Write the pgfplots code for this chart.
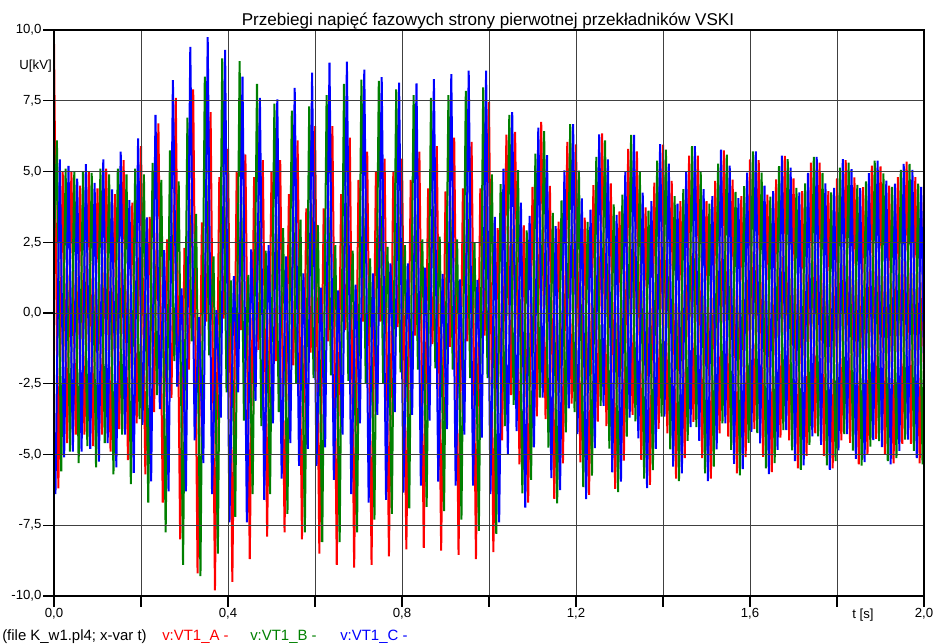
\documentclass[border=0pt]{standalone}
\usepackage{fontspec}
\setmainfont{Liberation Sans}
\usepackage{pgfplots}
\usepackage{pgfplotstable}
\pgfplotsset{compat=1.18}
\definecolor{phA}{RGB}{255,0,0}
\definecolor{phB}{RGB}{0,128,0}
\definecolor{phC}{RGB}{0,0,255}

% extremes of the three phase voltages, one row every 10 ms
% A at t, B at t+6.67 ms, C at t+13.33 ms (kV)
\pgfplotstableread{
t A B C
-0.01 9.5 0.5 -6.4
0.00 9.5 6.1 5.43
0.01 -6.2 -5.6 -5.1
0.02 5.0 5.1 5.2
0.03 -4.6 -4.9 -4.9
0.04 5.0 5.0 4.75
0.05 -4.3 -5.3 -4.9
0.06 4.5 5.0 5.26
0.07 -4.3 -4.7 -4.8
0.08 5.0 4.95 4.6
0.09 -4.7 -5.45 -5.25
0.10 4.4 5.1 5.43
0.11 -4.3 -4.6 -4.6
0.12 5.1 4.9 4.37
0.13 -4.9 -5.7 -5.45
0.14 4.2 5.1 5.7
0.15 -4.1 -4.3 -4.3
0.16 5.4 4.9 3.99
0.17 -5.2 -6.05 -5.65
0.18 3.9 5.1 6.17
0.19 -3.9 -3.75 -3.95
0.20 5.9 4.9 3.38
0.21 -5.7 -6.7 -5.95
0.22 3.4 5.3 7.0
0.23 -3.5 -2.9 -3.4
0.24 6.7 4.7 2.22
0.25 -6.7 -7.75 -6.3
0.26 2.6 5.75 8.23
0.27 -3.0 -1.7 -2.6
0.28 7.6 4.65 0.87
0.29 -8.0 -8.9 -6.3
0.30 2.3 6.9 9.4
0.31 -2.0 -1.0 -4.5
0.32 7.9 3.5 -0.15
0.33 -9.2 -9.3 -5.3
0.34 3.2 8.35 9.75
0.35 -0.3 -1.5 -6.4
0.36 7.1 2.0 0.1
0.37 -9.8 -8.5 -3.7
0.38 4.8 9.0 9.3
0.39 -0.2 -2.8 -7.4
0.40 5.8 1.15 1.3
0.41 -9.5 -7.2 -2.8
0.42 5.0 8.9 8.35
0.43 -0.6 -3.8 -7.4
0.44 5.6 1.35 2.25
0.45 -8.7 -6.4 -3.1
0.46 4.8 8.1 7.6
0.47 -1.3 -4.0 -6.6
0.48 5.4 2.2 2.4
0.49 -7.9 -6.4 -3.9
0.50 5.0 7.4 7.55
0.51 -1.7 -3.5 -5.85
0.52 5.4 3.0 2.0
0.53 -7.75 -7.1 -4.6
0.54 4.2 7.15 7.95
0.55 -1.85 -2.5 -5.4
0.56 6.1 3.3 1.4
0.57 -8.0 -7.75 -4.8
0.58 3.7 7.3 8.49
0.59 -1.4 -2.3 -5.4
0.60 6.6 3.1 0.9
0.61 -8.5 -8.1 -4.75
0.62 3.7 7.7 8.85
0.63 -1.0 -2.2 -5.9
0.64 6.6 2.4 0.8
0.65 -8.9 -8.1 -4.3
0.66 4.2 8.1 8.88
0.67 -0.6 -2.4 -6.4
0.68 6.2 2.2 1.0
0.69 -9.0 -7.75 -3.9
0.70 4.7 8.25 8.6
0.71 -0.3 -2.5 -6.7
0.72 5.7 1.93 1.4
0.73 -8.9 -7.3 -3.6
0.74 5.0 8.2 8.33
0.75 -0.3 -2.5 -6.6
0.76 5.45 2.34 1.75
0.77 -8.6 -7.1 -3.5
0.78 5.0 7.9 8.14
0.79 -0.5 -2.1 -6.35
0.80 5.45 2.4 1.75
0.81 -8.35 -6.9 -3.6
0.82 4.7 7.7 8.11
0.83 -0.8 -2.0 -6.1
0.84 5.7 2.6 1.6
0.85 -8.3 -6.85 -3.8
0.86 4.4 7.6 8.26
0.87 -1.1 -1.96 -5.96
0.88 5.9 2.7 1.38
0.89 -8.4 -7.0 -4.1
0.90 4.3 7.7 8.44
0.91 -1.2 -2.0 -6.1
0.92 6.2 2.6 1.19
0.93 -8.55 -7.3 -4.3
0.94 4.4 7.85 8.56
0.95 -1.0 -2.3 -6.1
0.96 6.05 2.5 1.17
0.97 -8.7 -7.7 -4.4
0.98 4.4 7.97 8.56
0.99 -0.8 -2.3 -6.4
1.00 7.46 4.9 3.4
1.01 -8.45 -7.8 -7.4
1.02 3.0 4.55 5.1
1.03 -4.5 -4.0 -5.0
1.04 6.3 7.0 7.1
1.05 -2.9 -3.25 -4.17
1.06 6.4 5.05 3.90
1.07 -5.35 -6.37 -6.88
1.08 3.10 2.92 3.43
1.09 -6.70 -5.90 -4.75
1.10 4.46 5.63 6.55
1.11 -3.65 -2.99 -2.99
1.12 6.75 6.43 5.58
1.13 -3.75 -4.76 -5.83
1.14 4.49 3.54 3.07
1.15 -6.57 -6.73 -6.26
1.16 3.23 3.98 5.04
1.17 -5.31 -4.22 -3.37
1.18 6.05 6.67 6.67
1.19 -3.20 -3.50 -4.28
1.20 5.96 5.03 4.05
1.21 -5.28 -6.15 -6.58
1.22 3.37 3.22 3.65
1.23 -6.43 -5.75 -4.77
1.24 4.52 5.52 6.31
1.25 -3.84 -3.28 -3.28
1.26 6.35 6.10 5.43
1.27 -4.00 -4.79 -5.63
1.28 4.58 3.84 3.47
1.29 -6.21 -6.33 -5.96
1.30 3.59 4.18 5.01
1.31 -5.22 -4.37 -3.70
1.32 5.80 6.29 6.29
1.33 -3.60 -3.83 -4.43
1.34 5.71 5.00 4.25
1.35 -5.19 -5.85 -6.19
1.36 3.73 3.62 3.95
1.37 -6.07 -5.55 -4.80
1.38 4.61 5.38 5.97
1.39 -4.09 -3.66 -3.66
1.40 5.95 5.77 5.28
1.41 -4.25 -4.82 -5.43
1.42 4.67 4.13 3.86
1.43 -5.85 -5.94 -5.67
1.44 3.95 4.38 4.98
1.45 -5.13 -4.52 -4.03
1.46 5.56 5.90 5.90
1.47 -3.85 -4.03 -4.52
1.48 5.56 4.98 4.38
1.49 -5.13 -5.67 -5.94
1.50 3.95 3.86 4.13
1.51 -5.85 -5.43 -4.82
1.52 4.67 5.28 5.77
1.53 -4.25 -3.90 -3.90
1.54 5.75 5.60 5.21
1.55 -4.37 -4.84 -5.33
1.56 4.71 4.28 4.06
1.57 -5.67 -5.74 -5.52
1.58 4.13 4.48 4.96
1.59 -5.09 -4.59 -4.20
1.60 5.43 5.71 5.71
1.61 -4.10 -4.24 -4.61
1.62 5.40 4.96 4.50
1.63 -5.08 -5.49 -5.69
1.64 4.18 4.11 4.31
1.65 -5.62 -5.30 -4.84
1.66 4.72 5.19 5.56
1.67 -4.40 -4.14 -4.14
1.68 5.55 5.44 5.14
1.69 -4.50 -4.85 -5.23
1.70 4.76 4.42 4.26
1.71 -5.49 -5.54 -5.38
1.72 4.31 4.58 4.95
1.73 -5.05 -4.66 -4.36
1.74 5.31 5.52 5.52
1.75 -4.25 -4.36 -4.66
1.76 5.31 4.95 4.58
1.77 -5.05 -5.38 -5.54
1.78 4.31 4.26 4.42
1.79 -5.49 -5.23 -4.85
1.80 4.76 5.14 5.44
1.81 -4.50 -4.28 -4.28
1.82 5.40 5.31 5.08
1.83 -4.59 -4.86 -5.15
1.84 4.79 4.53 4.41
1.85 -5.35 -5.39 -5.27
1.86 4.45 4.65 4.94
1.87 -5.01 -4.72 -4.49
1.88 5.21 5.38 5.38
1.89 -4.45 -4.53 -4.74
1.90 5.18 4.93 4.68
1.91 -5.00 -5.23 -5.35
1.92 4.50 4.46 4.57
1.93 -5.31 -5.13 -4.87
1.94 4.80 5.06 5.27
1.95 -4.62 -4.47 -4.47
1.96 5.35 5.27 5.06
1.97 -4.62 -4.87 -5.13
1.98 4.80 4.57 4.46
1.99 -5.31 -5.35 -5.23
2.00 4.50 4.68 4.93
}\volt

\begin{document}
\begin{tikzpicture}
\begin{axis}[
  name=ax,
  scale only axis,
  width=652.5pt, height=424.5pt,
  xmin=0, xmax=2, ymin=-10, ymax=10,
  xtick={0,0.2,0.4,0.6,0.8,1,1.2,1.4,1.6,1.8,2},
  xticklabels={{0,0},{},{0,4},{},{0,8},{},{1,2},{},{1,6},{},{2,0}},
  ytick={-10,-7.5,-5,-2.5,0,2.5,5,7.5,10},
  yticklabels={{-10,0},{-7,5},{-5,0},{-2,5},{0,0},{2,5},{5,0},{7,5},{10,0}},
  tick pos=left,
  tick align=outside,
  major tick length=8pt,
  tick style={black, line width=0.8pt},
  tick label style={font=\fontsize{9.9}{11}\selectfont, inner sep=0pt},
  yticklabel style={anchor=east, xshift=-1.2pt},
  xticklabel style={anchor=north, yshift=-1pt},
  grid=major,
  major grid style={black!75, line width=0.6pt},
  axis line style={black, line width=1.1pt},
  axis on top,
  every axis plot/.append style={line width=1.5pt},
]
\addplot[phA, mark=none] table[x=t, y=A] {\volt};
\addplot[phB, mark=none] table[x expr=\thisrow{t}+0.00667, y=B] {\volt};
\addplot[phC, mark=none] table[x expr=\thisrow{t}+0.01333, y=C] {\volt};
\end{axis}
\node[anchor=base, inner sep=0pt, font=\fontsize{12.8}{15}\selectfont]
  at ([xshift=325.5pt, yshift=3pt]ax.north west)
  {Przebiegi napięć fazowych strony pierwotnej przekładników VSKI};
\node[anchor=east, inner sep=0pt, font=\fontsize{9.9}{11}\selectfont]
  at ([xshift=-1.5pt, yshift=-27pt]ax.north west) {U[kV]};
\node[anchor=base west, inner sep=0pt, font=\fontsize{9.9}{11}\selectfont]
  at ([xshift=598.5pt, yshift=-16.5pt]ax.south west) {t [s]};
\node[anchor=base west, inner sep=0pt, font=\fontsize{11.2}{13}\selectfont]
  at ([xshift=-39pt, yshift=-33pt]ax.south west) {(file K\_w1.pl4; x-var t)};
\node[anchor=base west, inner sep=0pt, text=phA, font=\fontsize{11.2}{13}\selectfont]
  at ([xshift=81pt, yshift=-33pt]ax.south west) {v:VT1\_A -};
\node[anchor=base west, inner sep=0pt, text=phB, font=\fontsize{11.2}{13}\selectfont]
  at ([xshift=147pt, yshift=-33pt]ax.south west) {v:VT1\_B -};
\node[anchor=base west, inner sep=0pt, text=phC, font=\fontsize{11.2}{13}\selectfont]
  at ([xshift=214.5pt, yshift=-33pt]ax.south west) {v:VT1\_C -};
\pgfresetboundingbox
\path[use as bounding box] ([xshift=-40.5pt, yshift=-35.25pt]ax.south west)
  rectangle ([xshift=7.5pt, yshift=22.5pt]ax.north east);
\end{tikzpicture}
\end{document}
